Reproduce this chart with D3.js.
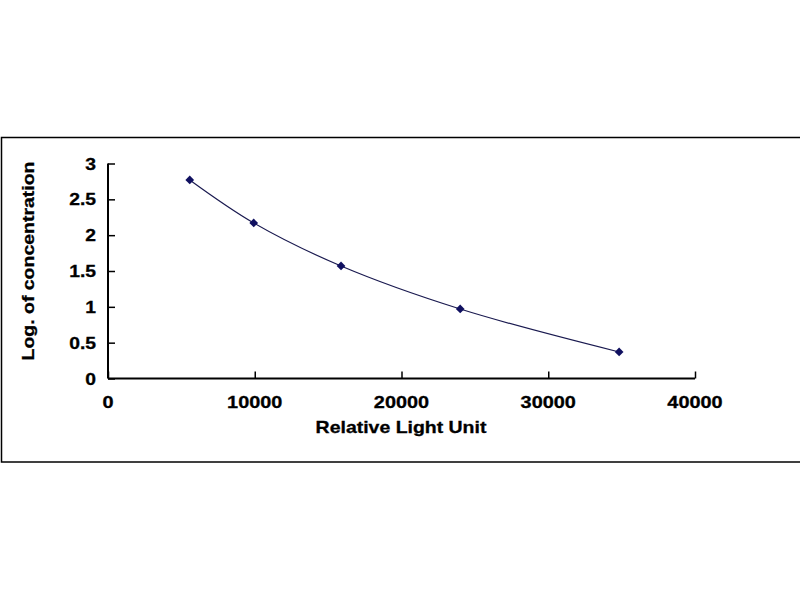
<!DOCTYPE html>
<html><head><meta charset="utf-8">
<script src="https://cdn.jsdelivr.net/npm/d3@7"></script>
<style>body{margin:0;background:#fff}svg{display:block}</style>
</head><body>
<script>
const rlu = [5570, 9930, 15880, 24000, 34830];
const logConc = [2.77, 2.17, 1.57, 0.97, 0.37];
const xTicks = [0, 10000, 20000, 30000, 40000];
const yTicks = [0, 0.5, 1, 1.5, 2, 2.5, 3];
const xTitle = "Relative Light Unit";
const yTitle = "Log. of concentration";

const W = 800, H = 600;
const svg = d3.select("body").append("svg").attr("width", W).attr("height", H);

// frame
svg.append("rect").attr("x", 1.5).attr("y", 137.5).attr("width", 810).attr("height", 324.5)
  .attr("fill", "none").attr("stroke", "#000").attr("stroke-width", 1.5);

const x = d3.scaleLinear().domain([0, 40000]).range([108, 695]);
const y = d3.scaleLinear().domain([0, 3]).range([378.5, 163.5]);

const font = "Arial, 'Liberation Sans', sans-serif";
const SX = 1.17;

const xa = svg.append("g").attr("transform", `translate(0,${y(0)})`)
  .call(d3.axisTop(x).tickValues(xTicks).tickSize(7).tickFormat(""));
xa.select(".domain").attr("stroke-width", 2).attr("d", `M${x(0)},0H${x(40000)}`);
xa.selectAll(".tick line").attr("stroke-width", 1.5);
svg.append("g").selectAll("text").data(xTicks).join("text")
  .attr("transform", d => `translate(${x(d)},${y(0) + 29}) scale(${SX},1)`)
  .attr("text-anchor", "middle").attr("font-family", font).attr("font-weight", "bold")
  .attr("font-size", 17).attr("stroke", "#000").attr("stroke-width", 0.3).text(d => d);

const ya = svg.append("g").attr("transform", `translate(${x(0)},0)`)
  .call(d3.axisRight(y).tickValues(yTicks).tickSize(7).tickFormat(""));
ya.select(".domain").attr("stroke-width", 2).attr("d", `M0,${y(0)}V${y(3)}`);
ya.selectAll(".tick line").attr("stroke-width", 1.5);
svg.append("g").selectAll("text").data(yTicks).join("text")
  .attr("transform", d => `translate(96,${y(d) + 6}) scale(${SX},1)`)
  .attr("text-anchor", "end").attr("font-family", font).attr("font-weight", "bold")
  .attr("font-size", 16.5).attr("stroke", "#000").attr("stroke-width", 0.3).text(d => d);

svg.append("text").attr("transform", `translate(401,433) scale(1.18,1)`).attr("text-anchor", "middle")
  .attr("font-family", font).attr("font-weight", "bold").attr("font-size", 16.5)
  .attr("stroke", "#000").attr("stroke-width", 0.3).text(xTitle);
svg.append("text").attr("transform", `translate(34,261) rotate(-90) scale(1.18,1)`)
  .attr("text-anchor", "middle").attr("font-family", font).attr("font-weight", "bold")
  .attr("font-size", 16.5).attr("stroke", "#000").attr("stroke-width", 0.3).text(yTitle);

const pts = rlu.map((v, i) => [x(v), y(logConc[i])]);
svg.append("path").attr("d", d3.line().curve(d3.curveCatmullRom.alpha(0.5))(pts))
  .attr("fill", "none").attr("stroke", "#1a1a50").attr("stroke-width", 1.2);
svg.append("g").selectAll("path").data(pts).join("path")
  .attr("transform", d => `translate(${d[0]},${d[1]}) rotate(45)`)
  .attr("d", d3.symbol(d3.symbolSquare, 38)).attr("fill", "#101060");
</script>
</body></html>
